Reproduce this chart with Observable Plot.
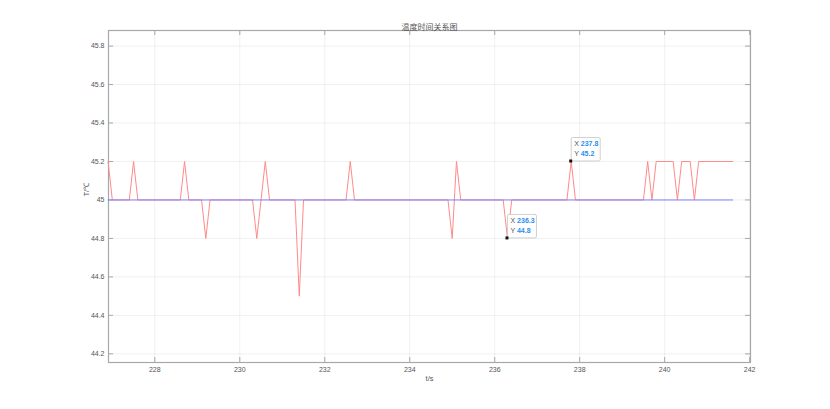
<!DOCTYPE html>
<html>
<head>
<meta charset="utf-8">
<script src="https://cdn.jsdelivr.net/npm/d3@7"></script>
<script src="https://cdn.jsdelivr.net/npm/@observablehq/plot@0.6"></script>
<style>
  html, body { margin: 0; padding: 0; background: #fff; }
  #chart svg { display: block; }
</style>
</head>
<body>
<div id="chart"></div>
<script>
// Measured temperature samples
const timeS = [226.9, 227.0, 227.4, 227.5, 227.6, 228.6, 228.7, 228.8, 229.1, 229.2, 229.3,
  230.3, 230.4, 230.6, 230.7, 231.3, 231.4, 231.5, 232.5, 232.6, 232.7, 234.9, 235.0, 235.1,
  235.2, 236.2, 236.3, 236.4, 237.7, 237.8, 237.9, 239.5, 239.6, 239.7, 239.8, 240.2, 240.3,
  240.4, 240.6, 240.7, 240.8, 241.6];
const tempC = [45.2, 45, 45, 45.2, 45, 45, 45.2, 45, 45, 44.8, 45,
  45, 44.8, 45.2, 45, 45, 44.5, 45, 45, 45.2, 45, 45, 44.8, 45.2,
  45, 45, 44.8, 45, 45, 45.2, 45, 45, 45.2, 45, 45.2, 45.2, 45,
  45.2, 45.2, 45, 45.2, 45.2];
// Set point line
const refTime = [226.9, 241.6];
const refTemp = [45, 45];
// Data tips
const tipX = [236.3, 237.8];
const tipY = [44.8, 45.2];
// Ticks
const xTicks = [228, 230, 232, 234, 236, 238, 240, 242];
const yTicks = [44.2, 44.4, 44.6, 44.8, 45, 45.2, 45.4, 45.6, 45.8];
const xDomain = [226.91, 242.02];
const yDomain = [44.155, 45.881];
const titleText = "温度时间关系图";
const xLabel = "t/s";
const yLabel = "T/℃";

const temp = timeS.map((t, i) => ({t, v: tempC[i]}));
const ref = refTime.map((t, i) => ({t, v: refTemp[i]}));
const tips = tipX.map((x, i) => ({x, y: tipY[i]}));

const W = 830, H = 409, mL = 108, mR = 80, mT = 30, mB = 47;
const frameH = H - mT - mB, frameW = W - mL - mR;
const tickLen = 5;
const axisColor = "#a8a8a8";
const textColor = "#555";

function tipMark(index, scales) {
  const g = d3.create("svg:g");
  for (const d of tips) {
    const px = scales.x(d.x), py = scales.y(d.y);
    const bw = 29, bh = 23.5;
    const box = g.append("g").attr("transform", `translate(${px},${py - bh})`);
    box.append("rect").attr("x", 0.5).attr("y", 0).attr("width", bw).attr("height", bh)
      .attr("rx", 1.5).attr("fill", "#fff").attr("fill-opacity", 0.95)
      .attr("stroke", "#c4c4c4").attr("stroke-width", 0.8);
    const lines = [["X", d3.format(".1f")(d.x)], ["Y", d3.format(".1f")(d.y)]];
    lines.forEach(([k, v], i) => {
      const t = box.append("text").attr("x", 3.5).attr("y", 9 + i * 9.6)
        .attr("text-anchor", "start")
        .attr("font-family", "Liberation Sans, Arial, sans-serif").attr("font-size", 7);
      t.append("tspan").attr("fill", "#555").text(k + " ");
      t.append("tspan").attr("fill", "#2a8ff0").attr("font-weight", "bold").text(v);
    });
    g.append("rect").attr("x", px - 1.5).attr("y", py - 1.5).attr("width", 3).attr("height", 3)
      .attr("fill", "#111");
  }
  return g.node();
}

const chart = Plot.plot({
  width: W, height: H,
  marginLeft: mL, marginRight: mR, marginTop: mT, marginBottom: mB,
  style: {fontFamily: "Liberation Sans, Arial, sans-serif", fontSize: "7px", color: textColor, background: "#fff"},
  x: {domain: xDomain, ticks: xTicks, label: null},
  y: {domain: yDomain, ticks: yTicks, label: null},
  marks: [
    Plot.gridX(xTicks, {stroke: "#000", strokeOpacity: 0.06}),
    Plot.gridY(yTicks, {stroke: "#000", strokeOpacity: 0.06}),
    Plot.axisX(xTicks, {tickSize: 0, tickPadding: 5, tickFormat: d => String(d), fill: textColor}),
    Plot.axisY(yTicks, {tickSize: 0, tickPadding: 4, tickFormat: d => String(d), fill: textColor}),
    // inward ticks on all four sides
    Plot.ruleX(xTicks, {stroke: axisColor, insetTop: frameH - tickLen}),
    Plot.ruleX(xTicks, {stroke: axisColor, insetBottom: frameH - tickLen}),
    Plot.ruleY(yTicks, {stroke: axisColor, insetRight: frameW - tickLen}),
    Plot.ruleY(yTicks, {stroke: axisColor, insetLeft: frameW - tickLen}),
    Plot.frame({stroke: axisColor, strokeWidth: 1.2}),
    Plot.line(temp, {x: "t", y: "v", stroke: "#ff8a8a", strokeWidth: 1}),
    Plot.line(ref, {x: "t", y: "v", stroke: "#8080ff", strokeWidth: 1}),
    tipMark,
    Plot.text([titleText], {frameAnchor: "top", dy: -6, fontSize: 8, fill: "#555",
      fontFamily: "Noto Sans CJK SC, sans-serif"}),
    Plot.text([xLabel], {frameAnchor: "bottom", dy: 18, fontSize: 7.5, fill: textColor}),
    Plot.text([yLabel], {frameAnchor: "left", dx: -22, rotate: -90, fontSize: 7.5, fill: textColor})
  ]
});
document.getElementById("chart").append(chart);
</script>
</body>
</html>
